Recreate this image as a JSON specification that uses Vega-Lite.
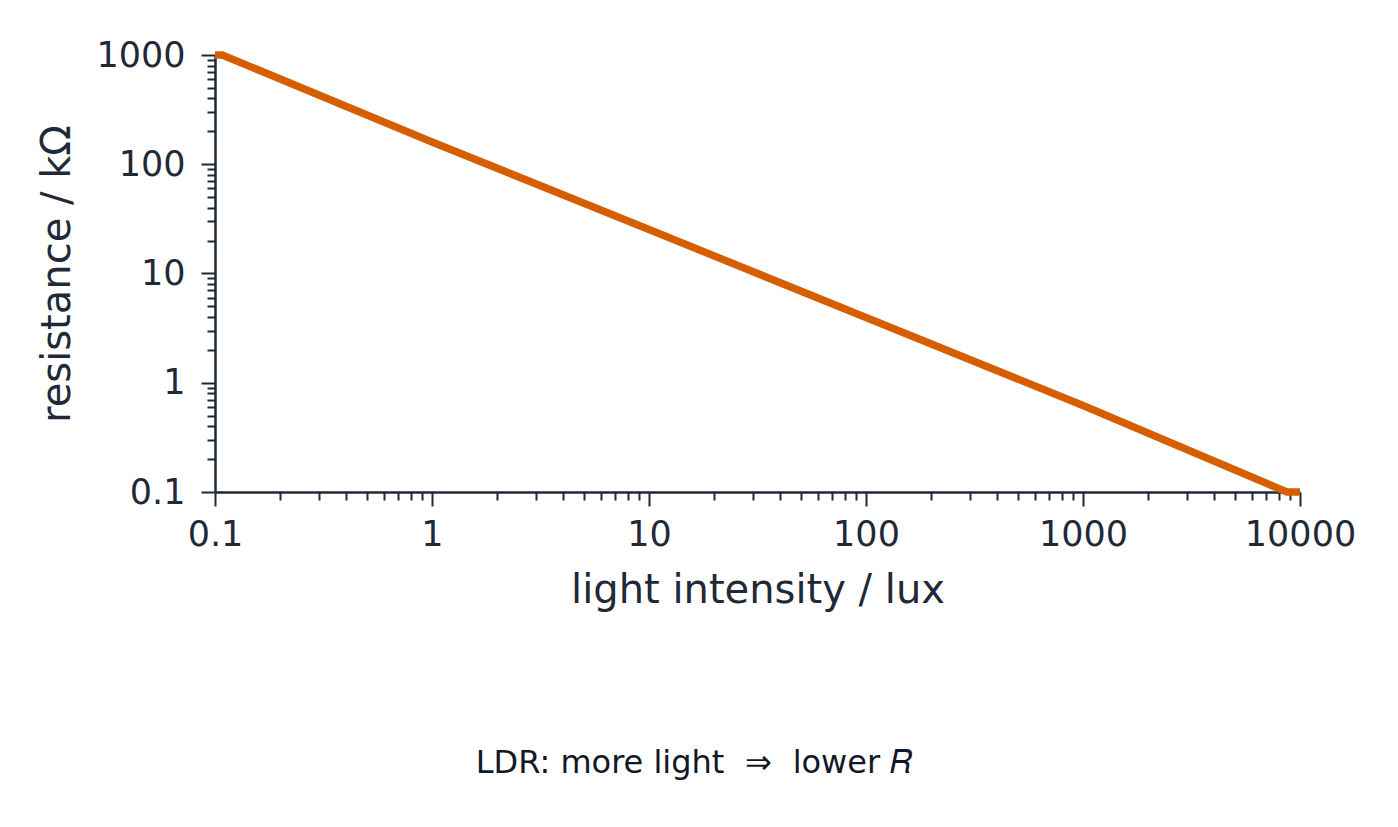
{
  "$schema": "https://vega.github.io/schema/vega-lite/v6.json",
  "width": 1085,
  "height": 437,
  "autosize": {"type": "none"},
  "padding": {"left": 215, "top": 55, "right": 98, "bottom": 335},
  "background": "white",
  "title": {
    "text": "LDR: more light \u2004⇒\u2004 lower 𝑅",
    "orient": "bottom",
    "anchor": "middle",
    "dx": -63,
    "offset": 138,
    "font": "DejaVu Sans",
    "fontSize": 32,
    "fontWeight": "normal",
    "color": "#111827"
  },
  "data": {
    "values": [
      {"lux": 0.1, "kohm": 1000},
      {"lux": 0.108, "kohm": 1000},
      {"lux": 1, "kohm": 160},
      {"lux": 10, "kohm": 25.3},
      {"lux": 100, "kohm": 3.95},
      {"lux": 1000, "kohm": 0.62},
      {"lux": 8700, "kohm": 0.1},
      {"lux": 10000, "kohm": 0.1}
    ]
  },
  "layer": [
    {
      "mark": {"type": "line", "color": "#d55e00", "strokeWidth": 7.5, "clip": false},
      "encoding": {
        "x": {
          "field": "lux",
          "type": "quantitative",
          "scale": {"type": "log", "domain": [0.1, 10000], "nice": false},
          "axis": {
            "title": "light intensity / lux",
            "orient": "bottom",
            "values": [0.1, 1, 10, 100, 1000, 10000],
            "format": "~g",
            "tickSize": 14,
            "labelPadding": 11,
            "titlePadding": 18
          }
        },
        "y": {
          "field": "kohm",
          "type": "quantitative",
          "scale": {"type": "log", "domain": [0.1, 1000], "nice": false},
          "axis": {
            "title": "resistance / kΩ",
            "orient": "left",
            "values": [0.1, 1, 10, 100, 1000],
            "format": "~g",
            "tickSize": 14,
            "labelPadding": 16,
            "titlePadding": 18
          }
        }
      }
    },
    {
      "mark": {"type": "line", "opacity": 0},
      "encoding": {
        "x": {
          "field": "lux",
          "type": "quantitative",
          "scale": {"type": "log", "domain": [0.1, 10000], "nice": false},
          "axis": {
            "orient": "bottom",
            "title": null,
            "labels": false,
            "domain": false,
            "tickSize": 8,
            "values": [0.2, 0.3, 0.4, 0.5, 0.6, 0.7, 0.8, 0.9, 2, 3, 4, 5, 6, 7, 8, 9, 20, 30, 40, 50, 60, 70, 80, 90, 200, 300, 400, 500, 600, 700, 800, 900, 2000, 3000, 4000, 5000, 6000, 7000, 8000, 9000]
          }
        },
        "y": {
          "field": "kohm",
          "type": "quantitative",
          "scale": {"type": "log", "domain": [0.1, 1000], "nice": false},
          "axis": {
            "orient": "left",
            "title": null,
            "labels": false,
            "domain": false,
            "tickSize": 8,
            "values": [0.2, 0.3, 0.4, 0.5, 0.6, 0.7, 0.8, 0.9, 2, 3, 4, 5, 6, 7, 8, 9, 20, 30, 40, 50, 60, 70, 80, 90, 200, 300, 400, 500, 600, 700, 800, 900]
          }
        }
      }
    }
  ],
  "resolve": {"axis": {"x": "independent", "y": "independent"}},
  "config": {
    "view": {"stroke": null},
    "axis": {
      "grid": false,
      "labelFlush": false,
      "labelOverlap": false,
      "domainColor": "#1f2937",
      "domainWidth": 2.5,
      "tickColor": "#1f2937",
      "tickWidth": 2,
      "labelFont": "DejaVu Sans",
      "labelFontSize": 35,
      "labelColor": "#1f2937",
      "titleFont": "DejaVu Sans",
      "titleFontSize": 40,
      "titleFontWeight": "normal",
      "titleColor": "#1f2937"
    }
  }
}
